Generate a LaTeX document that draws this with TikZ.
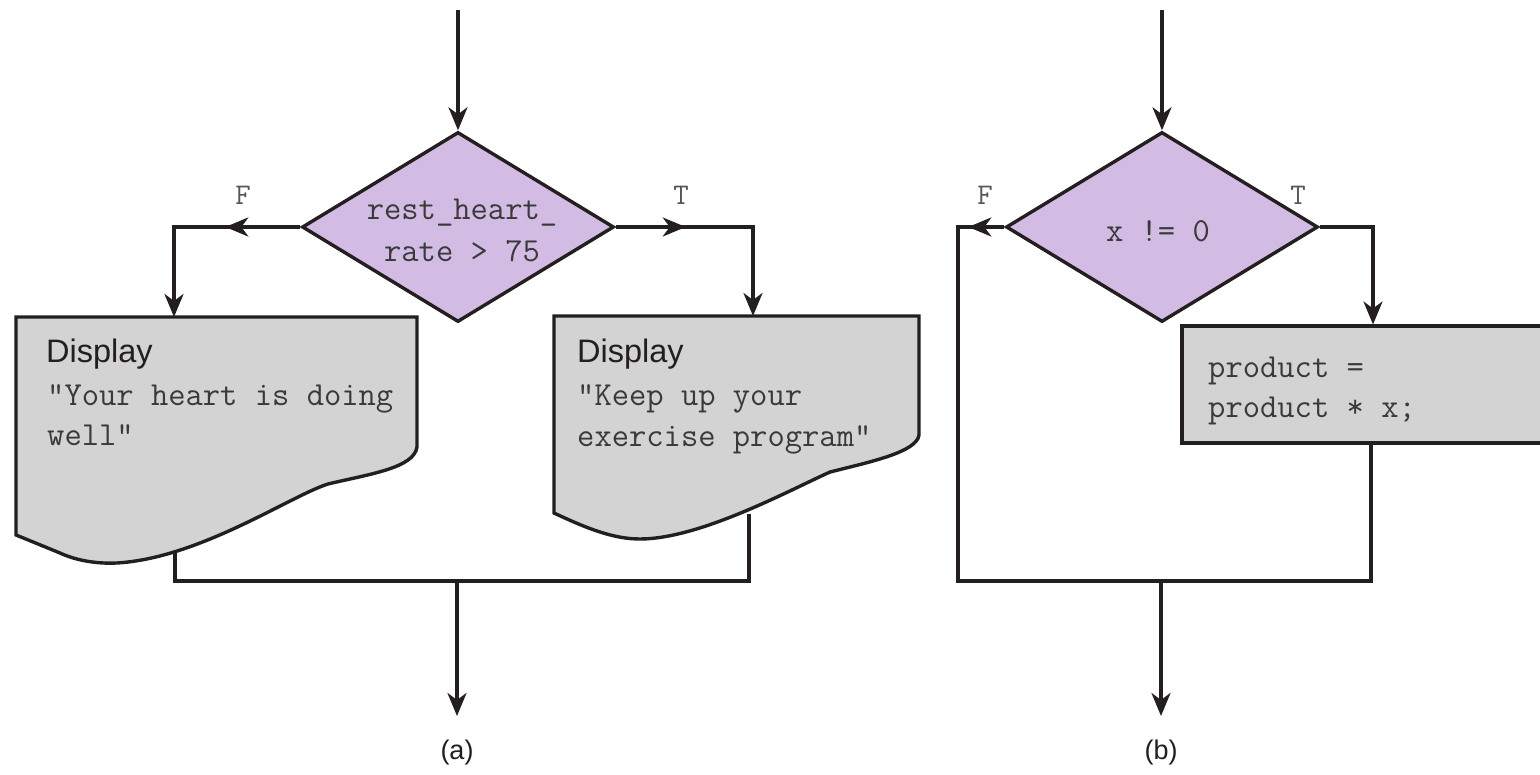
\documentclass[tikz,border=0pt]{standalone}
\usepackage{fontspec}
\setmainfont{Liberation Sans}
\usetikzlibrary{shapes.geometric,arrows.meta,decorations.markings}
\definecolor{linec}{HTML}{231F20}
\definecolor{diafill}{RGB}{210,188,227}
\definecolor{boxfill}{RGB}{211,211,211}
\definecolor{textc}{HTML}{3A3A3A}
\begin{document}
\begin{tikzpicture}[x=1pt,y=-1pt,
  conn/.style={line width=3.4pt, draw=linec},
  tip/.style={-{Stealth[length=23pt,width=19pt,inset=7pt]}},
  decision/.style={diamond, draw=linec, line width=3.4pt, fill=diafill, minimum width=312pt, minimum height=190pt, inner sep=0pt},
  proc/.style={rectangle, draw=linec, line width=3.4pt, fill=boxfill, inner sep=0pt, outer sep=0pt},
  doc/.style={draw=linec, line width=3.4pt, fill=boxfill},
  code/.style={font=\ttfamily\fontsize{33.6}{40}\selectfont, text=textc, inner sep=0pt, anchor=base west},
  disp/.style={font=\fontsize{32.5}{38}\selectfont, text=linec, inner sep=0pt, anchor=base west},
  flag/.style={font=\ttfamily\fontsize{30}{32}\selectfont, text=textc!85, inner sep=0pt},
  figcaption/.style={font=\fontsize{27}{30}\selectfont, text=linec, inner sep=0pt, anchor=base},
  midtip/.style={postaction={decorate}, decoration={markings, mark=at position #1 with {\arrow{Stealth[length=23pt,width=19pt,inset=7pt]}}}}
]
\useasboundingbox (0,0) rectangle (1540,775);
\clip (0,0) rectangle (1540,775);

% ---------- coordinates (a)
\coordinate (s1) at (458,10);
\coordinate (inL) at (174,317);
\coordinate (outL) at (175,550);
\coordinate (inR) at (753,316);
\coordinate (outR) at (749,514);
\coordinate (jL) at (175,581);
\coordinate (jR) at (749,581);
\coordinate (j1) at (457,581);
\coordinate (e1) at (457,716);

% ---------- coordinates (b)
\coordinate (s2) at (1162,10);
\coordinate (inB) at (1373,324.5);
\coordinate (outB) at (1371,443);
\coordinate (lA) at (958,227);
\coordinate (lB) at (958,581);
\coordinate (lC) at (1371,581);
\coordinate (j2) at (1161,581);
\coordinate (e2) at (1161,716);

% ---------- (a) merge lines
\draw[conn] (outL) -- (jL) -- (jR) -- (outR);
\draw[conn,tip] (j1) -- (e1);

% ---------- (a) document shapes
\draw[doc] (16,317) -- (417,317) -- (417,447)
  .. controls (414,468) and (370,474) .. (328,484)
  .. controls (290,496) and (200,558) .. (117,563)
  .. controls (95,564) and (75,560) .. (60,553)
  -- (16,535) -- cycle;
\draw[doc] (554,316) -- (919,316) -- (919,435)
  .. controls (917,452) and (870,462) .. (830,472)
  .. controls (790,490) and (700,539) .. (640,539)
  .. controls (615,539) and (590,530) .. (554,513) -- cycle;

% ---------- (a) decision
\node[decision] (d1) at (458,227) {};
\node[code, anchor=base] (q1a) at (462,220) {rest\_heart\_};
\node[code, anchor=base] (q1b) at (462,262) {rate > 75};

\draw[conn,tip] (s1) -- (d1.north);
\draw[conn,tip,midtip=75pt] (d1.west) -| (inL);
\draw[conn,tip,midtip=70pt] (d1.east) -| (inR);

\node[flag] (fa) at (243,195) {F};
\node[flag] (ta) at (681,195) {T};

\node[disp] (dispL) at (46,363) {Display};
\node[code] (cL1) at (47,406) {"Your heart is doing};
\node[code] (cL2) at (47,446) {well"};

\node[disp] (dispR) at (577,363) {Display};
\node[code] (cR1) at (577,406) {"Keep up your};
\node[code] (cR2) at (577,447) {exercise program"};

\node[figcaption] (capa) at (457,759) {(a)};

% ---------- (b)
\draw[conn,tip] (j2) -- (e2);
\node[proc, minimum width=420pt, minimum height=117pt, anchor=north west] (bx) at (1182,326) {};
\node[decision] (d2) at (1162,227) {};
\draw[conn,midtip=36pt] (d2.west) -- (lA) -- (lB) -- (lC) -- (outB);
\node[code, anchor=base] (q2) at (1158,242) {x != 0};
\draw[conn,tip] (s2) -- (d2.north);
\draw[conn,tip] (d2.east) -| (inB);

\node[flag] (fb) at (985,195) {F};
\node[flag] (tb) at (1298,195) {T};

\node[code] (p1) at (1208,378) {product =};
\node[code] (p2) at (1208,418) {product * x;};

\node[figcaption] (capb) at (1161,759) {(b)};
\end{tikzpicture}
\end{document}
